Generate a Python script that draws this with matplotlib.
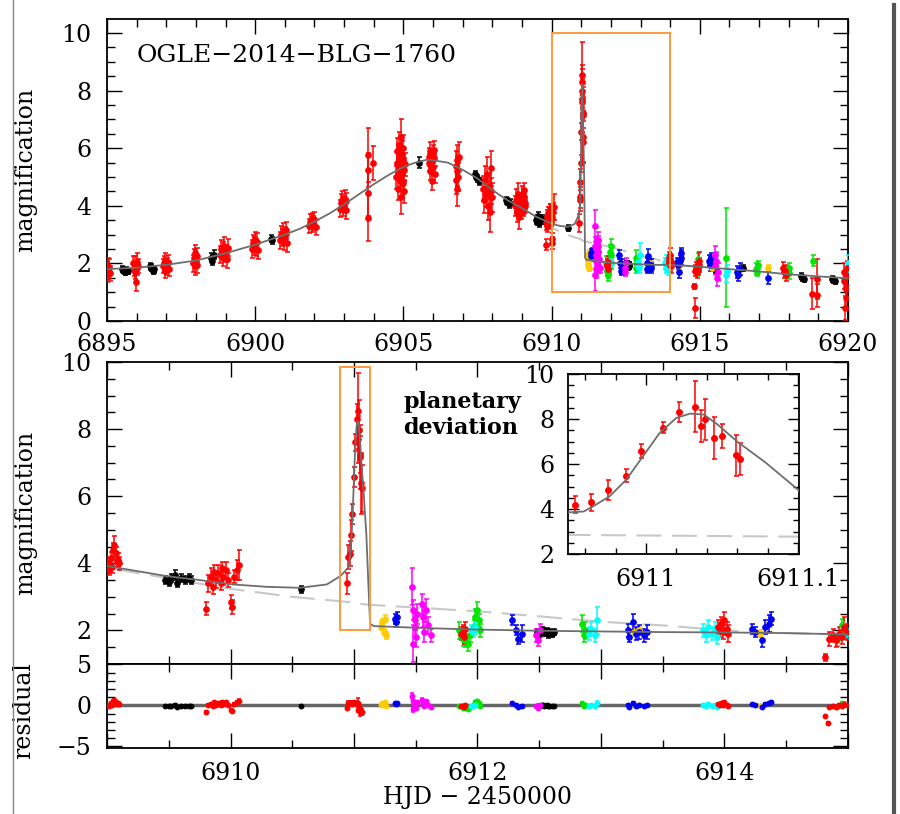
import matplotlib
matplotlib.use("Agg")
import matplotlib.pyplot as plt
from matplotlib.ticker import MultipleLocator, FuncFormatter, NullFormatter
from matplotlib.patches import Rectangle
from matplotlib.lines import Line2D

plt.rcParams['font.family'] = ['DejaVu Serif']
plt.rcParams['axes.unicode_minus'] = True

# ---------------- model curves ----------------
model_t = [6895, 6896, 6897, 6898, 6899, 6900, 6901, 6901.5, 6902, 6902.5, 6903, 6903.5,
           6904, 6904.5, 6905, 6905.4, 6905.8, 6906, 6906.5, 6907, 6907.5, 6908, 6908.5,
           6909.0, 6909.48, 6909.75, 6910.02, 6910.29, 6910.56, 6910.78, 6910.89,
           6910.949, 6910.959, 6910.965, 6910.976, 6910.987, 6910.998, 6911.009,
           6911.020, 6911.029, 6911.038, 6911.047, 6911.060, 6911.079, 6911.100,
           6911.115, 6911.13, 6911.16, 6911.5, 6911.94, 6912.5, 6913.0, 6913.5,
           6914.0, 6914.5, 6915, 6916, 6917, 6918, 6919, 6920]
model_A = [1.8, 1.85, 1.95, 2.1, 2.35, 2.65, 3.0, 3.2, 3.45, 3.73, 4.05, 4.4,
           4.75, 5.07, 5.35, 5.5, 5.6, 5.58, 5.5, 5.25, 4.95, 4.55, 4.2,
           3.92, 3.62, 3.5, 3.37, 3.3, 3.27, 3.37, 3.62,
           3.85, 3.89, 4.11, 4.56, 5.3, 6.34, 7.38,
           8.05, 8.24, 8.2, 7.76, 7.0, 6.05, 4.86,
           3.5, 2.2, 2.13, 2.08, 2.03, 1.99, 1.97, 1.95,
           1.94, 1.92, 1.88, 1.8, 1.72, 1.62, 1.55, 1.48]
single_t = [6908.5, 6909.0, 6909.5, 6910.0, 6910.5, 6910.95, 6911.1, 6911.5, 6912.0,
            6912.5, 6913.0, 6913.5, 6914.0, 6914.5, 6915.0]
single_A = [4.2, 3.87, 3.55, 3.24, 3.0, 2.85, 2.77, 2.68, 2.57, 2.42, 2.26, 2.15, 2.0,
            1.92, 1.88]

# ---------------- data only shown in the top panel (outside 6909-6915) ----------------
red_top_t = [6894.99, 6895.01, 6895.03, 6895.05, 6895.07, 6895.09,
             6895.88, 6895.91, 6895.94, 6895.96, 6895.98, 6896.0, 6896.02, 6896.04,
             6896.88, 6896.91, 6896.94, 6896.96, 6896.99, 6897.02, 6897.05, 6897.08,
             6897.9, 6897.93, 6897.96, 6897.98, 6898.0, 6898.03, 6898.05,
             6898.82, 6898.86, 6898.9, 6898.93, 6898.96, 6899.0, 6899.04, 6899.08,
             6899.88, 6899.92, 6899.96, 6899.99, 6900.02, 6900.05, 6900.09,
             6900.85, 6900.88, 6900.92, 6900.95, 6900.98, 6901.01, 6901.04, 6901.07,
             6901.82, 6901.86, 6901.9, 6901.93, 6901.96, 6902.0, 6902.04,
             6902.86, 6902.89, 6902.93, 6902.96, 6902.99, 6903.02, 6903.05, 6903.08,
             6903.8, 6903.8, 6903.8, 6903.8, 6903.97,
             6904.76, 6904.78, 6904.8, 6904.82, 6904.84, 6904.86, 6904.87, 6904.88, 6904.9, 6904.91,
             6904.92, 6904.93, 6904.95, 6904.96, 6904.97, 6904.99, 6905.0, 6905.01, 6905.03, 6905.05,
             6905.85, 6905.87, 6905.89, 6905.91, 6905.93, 6905.95, 6905.97, 6905.99, 6906.01, 6906.02,
             6906.04, 6906.06,
             6906.76, 6906.78, 6906.8, 6906.81, 6906.82, 6906.84, 6906.86,
             6907.7, 6907.73, 6907.76, 6907.79, 6907.82, 6907.85, 6907.88, 6907.91, 6907.94, 6907.97, 6908.0,
             6908.78, 6908.81, 6908.84, 6908.87, 6908.9, 6908.93, 6908.96, 6908.99,
             6917.8, 6917.84, 6917.88, 6917.92,
             6918.8, 6918.94, 6918.96,
             6919.86, 6919.88, 6919.9, 6919.92, 6919.94, 6919.96, 6919.98]
red_top_A = [1.75, 1.6, 1.9, 1.7, 1.85, 1.65,
             2.0, 1.8, 1.7, 1.95, 1.35, 2.05, 1.85, 1.9,
             1.9, 2.0, 1.75, 2.1, 1.85, 1.95, 2.05, 1.8,
             2.0, 2.2, 2.35, 1.9, 2.1, 2.25, 1.95,
             2.3, 2.5, 2.2, 2.45, 2.6, 2.35, 2.15, 2.55,
             2.5, 2.7, 2.6, 2.8, 2.55, 2.75, 2.45,
             2.8, 3.0, 2.9, 3.1, 2.75, 2.95, 3.15, 2.7,
             3.3, 3.45, 3.5, 3.35, 3.4, 3.55, 3.25,
             3.9, 4.1, 4.2, 3.95, 4.05, 4.25, 3.85, 4.15,
             5.76, 5.24, 4.44, 3.57, 5.48,
             5.0, 5.5, 5.9, 4.6, 5.3, 6.1, 4.9, 5.7, 5.2, 6.4,
             4.3, 5.4, 5.8, 5.1, 4.8, 5.6, 6.0, 5.25, 4.5, 5.45,
             5.5, 5.7, 5.2, 5.9, 5.4, 5.6, 4.85, 5.8, 5.35, 5.65, 5.95, 5.1,
             5.4, 4.9, 5.6, 4.6, 5.2, 5.0, 5.7,
             4.6, 4.2, 4.9, 4.4, 5.1, 4.0, 4.7, 3.8, 5.3, 4.5, 4.3,
             4.0, 4.2, 3.8, 4.4, 3.6, 4.1, 3.9, 4.3,
             1.85, 1.7, 1.75, 1.6,
             0.95, 1.45, 0.9,
             1.7, 1.4, 0.45, 1.1, 0.8, 1.55, 1.85]
red_top_e = [0.3, 0.25, 0.3, 0.25, 0.3, 0.25,
             0.25, 0.25, 0.25, 0.3, 0.3, 0.3, 0.25, 0.25,
             0.25, 0.25, 0.25, 0.25, 0.25, 0.25, 0.25, 0.25,
             0.3, 0.3, 0.3, 0.3, 0.25, 0.3, 0.3,
             0.3, 0.3, 0.3, 0.3, 0.3, 0.3, 0.3, 0.3,
             0.3, 0.3, 0.3, 0.3, 0.3, 0.3, 0.3,
             0.3, 0.3, 0.3, 0.3, 0.3, 0.3, 0.3, 0.3,
             0.25, 0.25, 0.25, 0.25, 0.25, 0.25, 0.25,
             0.3, 0.3, 0.3, 0.3, 0.3, 0.3, 0.3, 0.3,
             0.95, 0.6, 0.8, 0.8, 0.6,
             0.4, 0.4, 0.45, 0.4, 0.4, 0.45, 0.4, 0.4, 0.4, 0.6,
             0.6, 0.4, 0.45, 0.4, 0.4, 0.4, 0.45, 0.4, 0.4, 0.4,
             0.3, 0.3, 0.3, 0.3, 0.3, 0.3, 0.3, 0.3, 0.3, 0.3, 0.3, 0.3,
             0.5, 0.5, 0.5, 0.6, 0.5, 0.5, 0.5,
             0.45, 0.45, 0.5, 0.45, 0.6, 0.5, 0.45, 0.7, 0.6, 0.45, 0.5,
             0.35, 0.4, 0.35, 0.4, 0.4, 0.35, 0.35, 0.4,
             0.2, 0.2, 0.2, 0.2,
             0.55, 0.7, 0.4,
             0.3, 0.3, 0.4, 0.35, 0.4, 0.3, 0.25]

black_top_t = [6895.5, 6895.55, 6895.6, 6895.65, 6895.7, 6896.45, 6896.5, 6896.55, 6896.6,
               6898.5, 6898.55, 6898.6, 6900.52, 6900.58, 6905.53, 6907.4, 6907.45, 6907.5,
               6907.55, 6908.45, 6908.5, 6908.55, 6908.6, 6915.45, 6915.5, 6915.55, 6916.46,
               6918.4, 6918.45, 6918.5, 6919.45, 6919.5, 6919.55]
black_top_A = [1.8, 1.75, 1.7, 1.78, 1.72, 1.9, 1.85, 1.75, 1.8, 2.2, 2.1, 2.3, 2.85, 2.8,
               5.5, 5.1, 5.0, 4.95, 4.85, 4.2, 4.15, 4.05, 4.1, 1.85, 1.8, 1.78, 1.85,
               1.55, 1.5, 1.45, 1.45, 1.42, 1.4]
black_top_e = [0.1, 0.1, 0.1, 0.1, 0.1, 0.12, 0.12, 0.12, 0.12, 0.15, 0.15, 0.15, 0.12, 0.12,
               0.2, 0.12, 0.12, 0.12, 0.12, 0.12, 0.12, 0.12, 0.12, 0.12, 0.12, 0.12, 0.1,
               0.1, 0.1, 0.1, 0.1, 0.1, 0.1]
green_top_t = [6915.9, 6916.9, 6916.92, 6916.95, 6918.0, 6918.02, 6918.82]
green_top_A = [2.2, 1.8, 1.7, 1.95, 1.65, 1.85, 2.1]
green_top_e = [1.73, 0.2, 0.15, 0.15, 0.2, 0.15, 0.2]
cyan_top_t = [6915.88, 6915.93, 6919.98, 6920.0]
cyan_top_A = [1.6, 1.75, 1.8, 2.0]
cyan_top_e = [0.25, 0.2, 0.3, 0.3]
blue_top_t = [6915.3, 6915.35, 6915.38, 6916.25, 6916.3, 6916.35, 6917.3]
blue_top_A = [2.1, 1.95, 2.2, 1.7, 1.6, 1.8, 1.5]
blue_top_e = [0.2, 0.2, 0.15, 0.2, 0.2, 0.2, 0.2]
magenta_top_t = [6915.5, 6915.52, 6915.55, 6915.57, 6915.6]
magenta_top_A = [1.9, 2.3, 2.1, 1.5, 1.7]
magenta_top_e = [0.3, 0.3, 0.3, 0.3, 0.3]
gold_top_t = [6915.4, 6917.3]
gold_top_A = [1.85, 1.85]
gold_top_e = [0.1, 0.1]

# ---------------- data in the 6909-6915 window (all panels) ----------------
red_t = [6909.01, 6909.02, 6909.03, 6909.04, 6909.05, 6909.06, 6909.07, 6909.08, 6909.09, 6909.1,
         6909.8, 6909.82, 6909.84, 6909.86, 6909.87, 6909.88, 6909.9, 6909.92, 6909.93, 6909.94,
         6909.96, 6909.98, 6910.0, 6910.01, 6910.03, 6910.05, 6910.07,
         6910.94, 6910.953, 6910.964, 6910.975, 6910.987, 6910.997, 6911.011, 6911.022, 6911.032,
         6911.036, 6911.039, 6911.045, 6911.050, 6911.059, 6911.062,
         6911.87, 6911.88, 6911.89, 6911.9,
         6913.95, 6913.96, 6913.97, 6913.99, 6914.0, 6914.02, 6914.03,
         6914.81, 6914.84, 6914.85, 6914.88, 6914.9, 6914.93, 6914.95, 6914.97, 6914.99]
red_A = [4.0, 3.8, 4.15, 3.9, 4.4, 4.55, 4.3, 4.05, 4.1, 4.0,
         2.65, 3.4, 3.6, 3.3, 3.75, 3.5, 3.7, 3.4, 3.85, 3.6,
         3.8, 3.5, 2.85, 2.7, 3.6, 3.8, 3.95,
         3.4, 4.19, 4.29, 4.83, 5.48, 6.57, 7.61, 8.31, 8.55,
         7.7, 7.98, 7.16, 7.24, 6.38, 6.23,
         1.9, 1.95, 1.8, 2.05,
         2.1, 2.0, 2.2, 1.95, 2.3, 2.05, 1.9,
         1.2, 0.45, 1.75, 1.85, 1.7, 1.9, 1.8, 2.1, 1.95]
red_e = [0.2, 0.15, 0.2, 0.2, 0.2, 0.25, 0.2, 0.15, 0.2, 0.2,
         0.2, 0.25, 0.25, 0.2, 0.2, 0.25, 0.25, 0.2, 0.2, 0.25,
         0.25, 0.2, 0.2, 0.2, 0.2, 0.3, 0.45,
         0.3, 0.37, 0.37, 0.45, 0.3, 0.3, 0.25, 0.45, 1.13,
         0.7, 0.9, 0.95, 0.55, 0.9, 0.7,
         0.2, 0.2, 0.2, 0.2,
         0.2, 0.2, 0.2, 0.2, 0.25, 0.2, 0.25,
         0.1, 0.35, 0.2, 0.2, 0.2, 0.2, 0.2, 0.3, 0.25]
red_r = [0.08, -0.12, 0.25, 0.0, 0.5, 0.66, 0.42, 0.18, 0.24, 0.15,
         -0.75, 0.0, 0.2, -0.1, 0.35, 0.1, 0.3, 0.0, 0.45, 0.2,
         0.4, 0.1, -0.55, -0.7, 0.22, 0.42, 0.58,
         -0.3, 0.32, 0.29, 0.33, 0.18, 0.37, 0.31, 0.26, 0.31,
         -0.52, -0.22, -0.79, -0.46, -0.77, -0.77,
         -0.13, -0.08, -0.23, 0.02,
         0.15, 0.05, 0.25, 0.0, 0.35, 0.1, -0.05,
         -1.3, -2.2, -0.14, -0.04, -0.19, 0.01, -0.09, 0.21, 0.06]

black_t = [6909.47, 6909.5, 6909.52, 6909.55, 6909.57, 6909.6, 6909.63, 6909.66, 6909.68,
           6910.57,
           6912.48, 6912.5, 6912.52, 6912.53, 6912.54, 6912.56, 6912.57, 6912.58, 6912.6, 6912.62]
black_A = [3.5, 3.45, 3.55, 3.65, 3.4, 3.55, 3.5, 3.55, 3.5,
           3.22,
           1.95, 1.9, 2.0, 1.97, 1.92, 1.98, 1.88, 1.95, 1.9, 1.95]
black_e = [0.12, 0.12, 0.12, 0.15, 0.12, 0.12, 0.12, 0.12, 0.12,
           0.1,
           0.1, 0.1, 0.1, 0.1, 0.1, 0.1, 0.1, 0.1, 0.1, 0.1]
black_r = [-0.08, -0.13, -0.03, 0.07, -0.18, -0.03, -0.08, -0.03, -0.08,
           -0.05,
           -0.02, -0.07, 0.03, 0.0, -0.05, 0.01, -0.09, -0.02, -0.07, -0.02]

gold_t = [6911.22, 6911.23, 6911.24, 6911.25, 6911.26, 6913.27, 6913.29, 6913.31, 6914.29]
gold_A = [2.1, 2.25, 1.95, 2.35, 1.85, 1.95, 1.9, 2.0, 1.9]
gold_e = [0.1, 0.1, 0.1, 0.1, 0.1, 0.1, 0.1, 0.1, 0.1]
gold_r = [0.1, 0.25, 0.0, 0.35, -0.1, 0.0, -0.05, 0.05, -0.05]

blue_t = [6911.33, 6911.34, 6911.35,
          6912.28, 6912.31, 6912.33, 6912.36,
          6913.22, 6913.23, 6913.26, 6913.28, 6913.31, 6913.35, 6913.37,
          6914.22, 6914.25, 6914.3, 6914.33, 6914.36, 6914.38]
blue_A = [2.35, 2.25, 2.4,
          2.3, 2.0, 1.75, 1.9,
          2.0, 1.8, 2.25, 1.9, 1.95, 1.85, 1.95,
          2.05, 1.95, 1.7, 2.1, 2.2, 2.35]
blue_e = [0.15, 0.15, 0.15,
          0.15, 0.15, 0.15, 0.25,
          0.2, 0.15, 0.25, 0.2, 0.2, 0.2, 0.2,
          0.15, 0.15, 0.2, 0.2, 0.25, 0.2]
blue_r = [0.25, 0.15, 0.3,
          0.32, 0.02, -0.2, -0.06,
          0.05, -0.15, 0.3, -0.05, 0.0, -0.1, 0.0,
          0.12, 0.02, -0.23, 0.17, 0.27, 0.42]

magenta_t = [6911.47, 6911.48, 6911.48, 6911.49, 6911.49, 6911.5, 6911.51, 6911.55, 6911.56,
             6911.57, 6911.58, 6911.6, 6911.62,
             6912.47, 6912.49, 6912.51]
magenta_A = [3.3, 1.6, 2.6, 2.1, 2.3, 1.8, 2.5, 2.8, 2.4,
             1.95, 2.6, 2.15, 1.85,
             1.85, 1.7, 2.0]
magenta_e = [0.55, 0.55, 0.3, 0.3, 0.3, 0.3, 0.3, 0.3, 0.3,
             0.3, 0.35, 0.25, 0.2,
             0.2, 0.15, 0.2]
magenta_r = [1.2, -0.5, 0.5, 0.0, 0.2, -0.3, 0.4, 0.7, 0.3,
             -0.1, 0.5, 0.05, -0.2,
             -0.12, -0.27, 0.03]

green_t = [6911.85, 6911.88, 6911.9, 6911.92, 6911.94, 6911.97, 6911.98, 6912.0, 6912.01, 6912.02,
           6912.85, 6912.86, 6912.87, 6914.91, 6914.95]
green_A = [2.0, 1.75, 1.7, 1.6, 1.85, 2.1, 2.4, 2.6, 2.3, 2.0,
           2.2, 1.85, 2.0, 1.7, 2.15]
green_e = [0.25, 0.2, 0.2, 0.2, 0.2, 0.2, 0.25, 0.25, 0.2, 0.2,
           0.25, 0.2, 0.25, 0.15, 0.2]
green_r = [-0.03, -0.28, -0.33, -0.43, -0.18, 0.07, 0.37, 0.57, 0.27, -0.03,
           0.24, -0.11, 0.04, -0.19, 0.26]

cyan_t = [6911.95, 6911.96, 6911.98,
          6912.9, 6912.92, 6912.95, 6912.97,
          6913.83, 6913.85, 6913.87, 6913.9, 6913.92, 6913.94,
          6914.98]
cyan_A = [2.0, 1.95, 2.1,
          1.9, 2.05, 1.85, 2.3,
          2.0, 1.85, 2.1, 1.9, 2.05, 1.8,
          1.9]
cyan_e = [0.15, 0.15, 0.15,
          0.2, 0.2, 0.2, 0.4,
          0.2, 0.2, 0.2, 0.2, 0.2, 0.2,
          0.15]
cyan_r = [-0.03, -0.08, 0.07,
          -0.07, 0.08, -0.12, 0.33,
          0.05, -0.1, 0.15, -0.05, 0.1, -0.15,
          0.01]

COL = {'red': '#ff0000', 'black': '#000000', 'gold': '#ffcc00', 'magenta': '#ff00ff',
       'green': '#00e600', 'blue': '#0000f0', 'cyan': '#00ffff'}

top_only = [('black', black_top_t, black_top_A, black_top_e),
            ('gold', gold_top_t, gold_top_A, gold_top_e),
            ('blue', blue_top_t, blue_top_A, blue_top_e),
            ('magenta', magenta_top_t, magenta_top_A, magenta_top_e),
            ('green', green_top_t, green_top_A, green_top_e),
            ('cyan', cyan_top_t, cyan_top_A, cyan_top_e),
            ('red', red_top_t, red_top_A, red_top_e)]
window = [('black', black_t, black_A, black_e, black_r),
          ('gold', gold_t, gold_A, gold_e, gold_r),
          ('blue', blue_t, blue_A, blue_e, blue_r),
          ('magenta', magenta_t, magenta_A, magenta_e, magenta_r),
          ('green', green_t, green_A, green_e, green_r),
          ('cyan', cyan_t, cyan_A, cyan_e, cyan_r),
          ('red', red_t, red_A, red_e, red_r)]


def eb(ax, t, A, e, c, ms=3.8, cs=1.8, lw=1.1):
    ax.errorbar(t, A, yerr=e, fmt='o', ms=ms, color=c, mec=c, mfc=c, ecolor=c,
                elinewidth=lw, capsize=cs, capthick=lw, zorder=3)


def style(ax, maj=15, mnr=8, ls=17, pad=6):
    ax.tick_params(which='both', direction='in', top=True, right=True, width=1.0,
                   labelsize=ls, pad=pad)
    ax.tick_params(which='major', length=maj * 0.72)
    ax.tick_params(which='minor', length=mnr * 0.72)
    for s in ax.spines.values():
        s.set_linewidth(1.3)


MODEL_KW = dict(color='#6e6e6e', lw=1.3, zorder=4)
SINGLE_KW = dict(color='#c8c8c8', lw=1.5, dashes=(12, 5), zorder=2)
ORANGE = '#ff9a3c'

fig = plt.figure(figsize=(9, 8.14), dpi=100)
ax1 = fig.add_axes([0.1189, 0.6057, 0.8233, 0.371])
ax2 = fig.add_axes([0.1189, 0.1843, 0.8233, 0.371])
ax3 = fig.add_axes([0.1189, 0.0811, 0.8233, 0.1032])
axi = fig.add_axes([0.6311, 0.3194, 0.2567, 0.2211])

# ---- top panel ----
for c, t, A, e in top_only:
    eb(ax1, t, A, e, COL[c])
for c, t, A, e, r in window:
    eb(ax1, t, A, e, COL[c])
ax1.plot(single_t, single_A, **SINGLE_KW)
ax1.plot(model_t, model_A, **MODEL_KW)
ax1.add_patch(Rectangle((6910, 1.0), 4, 9, fill=False, ec=ORANGE, lw=1.4, zorder=5))
ax1.set_xlim(6895, 6920)
ax1.set_ylim(0, 10.49)
ax1.xaxis.set_major_locator(MultipleLocator(5))
ax1.xaxis.set_minor_locator(MultipleLocator(1))
ax1.yaxis.set_major_locator(MultipleLocator(2))
ax1.yaxis.set_minor_locator(MultipleLocator(0.5))
style(ax1, pad=9)
ax1.tick_params(axis='y', pad=11)
ax1.xaxis.set_major_formatter(FuncFormatter(lambda v, p: f"{v:.0f}"))
ax1.set_ylabel('magnification', fontsize=17)
ax1.yaxis.set_label_coords(-0.095, 0.5)
ax1.text(0.04, 0.88, 'OGLE\u22122014\u2212BLG\u22121760', transform=ax1.transAxes,
         fontsize=18, ha='left', va='center')

# ---- middle panel ----
for c, t, A, e, r in window:
    eb(ax2, t, A, e, COL[c])
ax2.plot(single_t, single_A, **SINGLE_KW)
ax2.plot(model_t, model_A, **MODEL_KW)
ax2.add_patch(Rectangle((6910.89, 2.0), 0.24, 7.85, fill=False, ec=ORANGE, lw=1.4, zorder=5))
ax2.set_xlim(6909, 6915)
ax2.set_ylim(1.0, 10.0)
ax2.xaxis.set_major_locator(MultipleLocator(1))
ax2.xaxis.set_minor_locator(MultipleLocator(0.5))
ax2.yaxis.set_major_locator(MultipleLocator(2))
ax2.yaxis.set_minor_locator(MultipleLocator(0.5))
style(ax2)
ax2.tick_params(axis='y', pad=11)
ax2.xaxis.set_major_formatter(NullFormatter())
ax2.set_ylabel('magnification', fontsize=17)
ax2.yaxis.set_label_coords(-0.095, 0.5)
ax2.text(0.3995, 0.905, 'planetary\ndeviation', transform=ax2.transAxes, fontsize=16,
         fontweight='bold', ha='left', va='top', linespacing=1.25)

# ---- inset ----
for c, t, A, e, r in window:
    eb(axi, t, A, e, COL[c], ms=4)
axi.plot(single_t, single_A, **SINGLE_KW)
axi.plot(model_t, model_A, **MODEL_KW)
axi.set_xlim(6910.9487, 6911.1007)
axi.set_ylim(2, 10)
axi.xaxis.set_major_locator(MultipleLocator(0.1))
axi.xaxis.set_minor_locator(MultipleLocator(0.02))
axi.yaxis.set_major_locator(MultipleLocator(2))
axi.yaxis.set_minor_locator(MultipleLocator(0.5))
style(axi, maj=11, mnr=6, ls=17, pad=10)
axi.xaxis.set_major_formatter(FuncFormatter(lambda v, p: f"{v:.0f}" if abs(v - round(v)) < 1e-6 else f"{v:.1f}"))
axi.set_facecolor('white')

# ---- residual panel ----
for c, t, A, e, r in window:
    eb(ax3, t, r, [x * 0.5 for x in e], COL[c], ms=3.2, cs=1.2)
ax3.axhline(0, color='#666666', lw=2.5, zorder=2)
ax3.set_xlim(6909, 6915)
ax3.set_ylim(-5.2, 5.05)
ax3.xaxis.set_major_locator(MultipleLocator(1))
ax3.xaxis.set_minor_locator(MultipleLocator(0.5))
ax3.yaxis.set_major_locator(MultipleLocator(5))
ax3.yaxis.set_minor_locator(MultipleLocator(1))
style(ax3, pad=10)
ax3.tick_params(axis='y', pad=11)
ax3.xaxis.set_major_formatter(FuncFormatter(lambda v, p: f"{v:.0f}" if int(round(v)) % 2 == 0 else ""))
ax3.yaxis.set_major_formatter(FuncFormatter(lambda v, p: f"{v:.0f}".replace('-', '\u2212')))
ax3.set_ylabel('residual', fontsize=17)
ax3.yaxis.set_label_coords(-0.097, 0.45)
ax3.set_xlabel('HJD \u2212 2450000', fontsize=17, labelpad=1)

# page borders
fig.add_artist(Line2D([13 / 900, 13 / 900], [0, 1], color='#888888', lw=1.0, transform=fig.transFigure))
fig.add_artist(Line2D([894 / 900, 894 / 900], [0, 1 - 5 / 814], color='#555555', lw=3.0,
                      transform=fig.transFigure))

fig.savefig('out.png', dpi=100)
